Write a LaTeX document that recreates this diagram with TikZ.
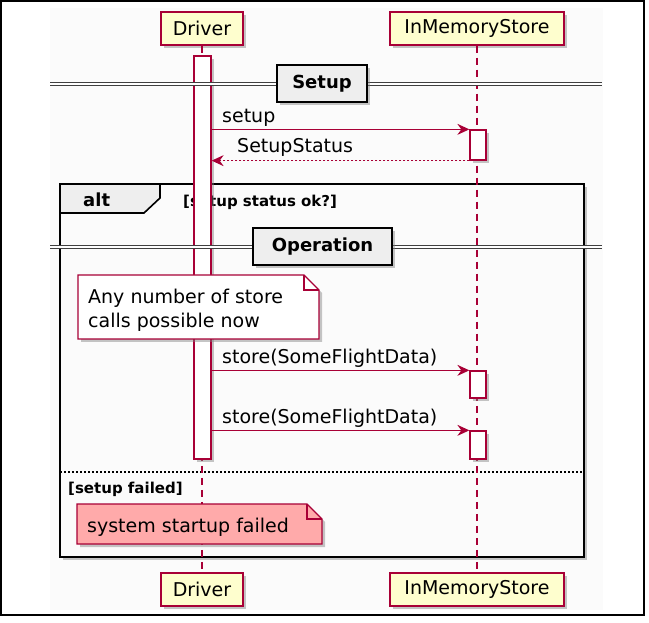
\documentclass[tikz,border=0pt]{standalone}
\usepackage{fontspec}
\setmainfont{DejaVu Sans}
\usetikzlibrary{positioning}
\usetikzlibrary{shadows}
\usetikzlibrary{arrows.meta}
\definecolor{umlred}{HTML}{A80036}
\definecolor{umlfill}{HTML}{FEFECE}
\definecolor{umlgray}{HTML}{EEEEEE}
\definecolor{umlpink}{HTML}{FFAAAA}
\definecolor{umlbg}{HTML}{FBFBFB}
\tikzset{
  dropsh/.style={drop shadow={shadow xshift=3pt,shadow yshift=-3pt,fill=black!50,opacity=.45}},
  actor/.style={draw=umlred,line width=1.5pt,fill=umlfill,minimum height=33pt,inner sep=0pt,font=\fontsize{19}{23}\selectfont,dropsh},
  life/.style={draw=umlred,line width=1.3pt,dash pattern=on 7pt off 5pt},
  activ/.style={draw=umlred,line width=1.3pt,fill=white,minimum width=16pt,inner sep=0pt,dropsh},
  msg/.style={draw=umlred,line width=1.3pt,-{Stealth[length=12pt,width=11pt,inset=4pt]}},
  reply/.style={msg,dash pattern=on 2pt off 2pt},
  lbl/.style={font=\fontsize{19}{23}\selectfont,inner sep=0pt,anchor=base west},
  divbox/.style={draw=black,line width=2pt,fill=umlgray,inner sep=0pt,minimum height=37pt,font=\bfseries\fontsize{18}{22}\selectfont,dropsh},
  divline/.style={draw=black!75,double=white,double distance=2pt,line width=1.2pt},
  guard/.style={font=\bfseries\fontsize{15}{18}\selectfont,inner sep=0pt,anchor=base west},
  note/.style={draw=umlred,line width=1.3pt,dropsh},
  notetext/.style={anchor=base west,inner sep=0pt,align=left,font=\fontsize{19}{24}\selectfont}
}
\begin{document}
\begin{tikzpicture}[x=1pt,y=-1pt]
      \useasboundingbox (0,0) rectangle (649,623);
      \draw[line width=1.2pt] (1,1) rectangle (644,615);
      \fill[umlbg] (50,8) rectangle (603,610);

      % alt frame
      \draw[line width=2.2pt,fill=umlbg,dropsh] (60,184) rectangle (584,557);
      \draw[line width=1.6pt,fill=umlgray] (60,184) -- (160,184) -- (160,198) -- (144,213) -- (60,213) -- cycle;
      \node[font=\bfseries\fontsize{18}{22}\selectfont,inner sep=0pt,anchor=base west] (alt) at (83,207) {alt};
      \node[guard] (gOk) at (183,207) {[setup status ok?]};
      \draw[line width=1.1pt,dash pattern=on 2pt off 2pt] (60,472) -- (584,472);
      \node[guard] (gFail) at (68,493) {[setup failed]};

      % participants
      \node[actor,minimum width=82pt] (drvTop) at (202,28.5) {Driver};
      \node[actor,minimum width=174pt] (stoTop) at (477,28.5) {InMemoryStore};
      \node[actor,minimum width=82pt] (drvBot) at (202,589.5) {Driver};
      \node[actor,minimum width=174pt] (stoBot) at (477,589.5) {InMemoryStore};
      \draw[life] (drvTop) -- (drvBot);
      \draw[life] (stoTop) -- (stoBot);

      % activations
      \node[activ,minimum width=17pt,minimum height=403pt] (actD) at (202.5,257.5) {};
      \node[activ,minimum height=30pt] (actS1) at (478,145) {};
      \node[activ,minimum height=27pt] (actS2) at (478,384.5) {};
      \node[activ,minimum height=28pt] (actS3) at (478,445) {};

      % messages
      \draw[msg] (actD.east |- actS1.north) -- (actS1.north west);
      \node[lbl] (lSetup) at (222,123) {setup};
      \draw[reply] (actS1.south west) -- (actD.east |- actS1.south);
      \node[lbl] (lStatus) at (237,153) {SetupStatus};
      \draw[msg] (actD.east |- actS2.north) -- (actS2.north west);
      \node[lbl] (lStore1) at (222,363) {store(SomeFlightData)};
      \draw[msg] (actD.east |- actS3.north) -- (actS3.north west);
      \node[lbl] (lStore2) at (222,423) {store(SomeFlightData)};

      % dividers
      \draw[divline] (50,84) -- (602,84);
      \node[divbox,minimum width=90pt] (divSetup) at (322,84) {Setup};
      \draw[divline] (50,247) -- (602,247);
      \node[divbox,minimum width=139pt] (divOp) at (322.5,246.5) {Operation};

      % notes
      \coordinate (nA) at (78,275);
      \coordinate (nB) at (319,339);
      \draw[note,fill=white] (nA) -- ([xshift=-15pt]nB |- nA) -- ([yshift=-15pt]nB |- nA) -- (nB) -- (nA |- nB) -- cycle;
      \draw[umlred,line width=1.3pt] ([xshift=-15pt]nB |- nA) -- ([xshift=-15pt,yshift=-15pt]nB |- nA) -- ([yshift=-15pt]nB |- nA);
      \node[notetext] (noteAny) at (88,327) {Any number of store\\calls possible now};

      \coordinate (fA) at (77,504);
      \coordinate (fB) at (322,544);
      \draw[note,fill=umlpink] (fA) -- ([xshift=-15pt]fB |- fA) -- ([yshift=-15pt]fB |- fA) -- (fB) -- (fA |- fB) -- cycle;
      \draw[umlred,line width=1.3pt] ([xshift=-15pt]fB |- fA) -- ([xshift=-15pt,yshift=-15pt]fB |- fA) -- ([yshift=-15pt]fB |- fA);
      \node[notetext] (noteFail) at (87,532) {system startup failed};
    \end{tikzpicture}
\end{document}
